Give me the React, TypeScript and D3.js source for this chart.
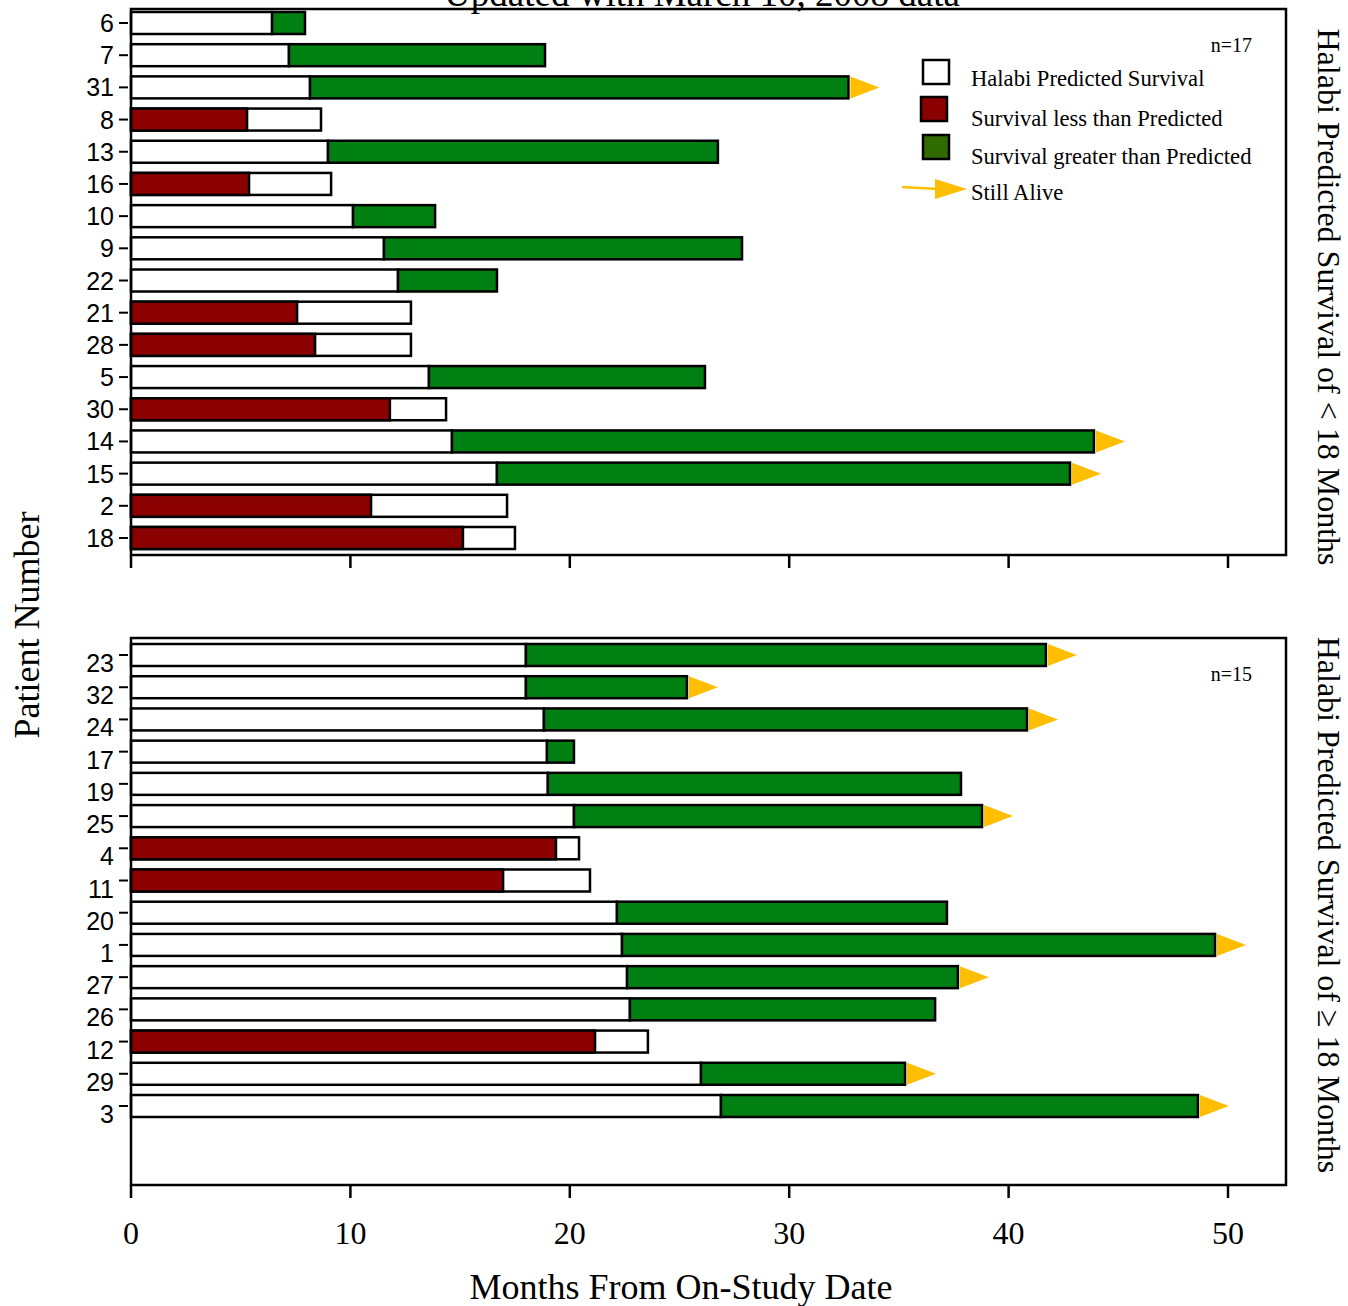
import React from "react";
import * as d3 from "d3";

// Patients with Halabi predicted survival < 18 months (top panel)
const shortIds = ["6", "7", "31", "8", "13", "16", "10", "9", "22", "21", "28", "5", "30", "14", "15", "2", "18"];
const shortPredicted = [6.43, 7.2, 8.16, 8.66, 8.98, 9.12, 10.12, 11.53, 12.17, 12.76, 12.76, 13.58, 14.36, 14.63, 16.68, 17.14, 17.5];
const shortActual = [7.93, 18.87, 32.7, 5.29, 26.75, 5.38, 13.86, 27.85, 16.68, 7.57, 8.39, 26.16, 11.8, 43.89, 42.8, 10.94, 15.13];
const shortAlive = [false, false, true, false, false, false, false, false, false, false, false, false, false, true, true, false, false];

// Patients with Halabi predicted survival >= 18 months (bottom panel)
const longIds = ["23", "32", "24", "17", "19", "25", "4", "11", "20", "1", "27", "26", "12", "29", "3"];
const longPredicted = [18.0, 18.0, 18.82, 18.96, 19.0, 20.19, 20.42, 20.92, 22.15, 22.38, 22.61, 22.74, 23.56, 25.98, 26.89];
const longActual = [41.7, 25.34, 40.84, 20.19, 37.83, 38.79, 19.37, 16.96, 37.19, 49.41, 37.69, 36.65, 21.15, 35.28, 48.63];
const longAlive = [true, true, true, false, false, true, false, false, false, true, true, false, false, true, true];

const xTicks = [0, 10, 20, 30, 40, 50];
const legendItems = ["Halabi Predicted Survival", "Survival less than Predicted", "Survival greater than Predicted", "Still Alive"];

const WHITE = "#ffffff";
const RED = "#8b0000";
const GREEN = "#007f13";
const LEGEND_GREEN = "#2f6b00";
const ARROW = "#ffbf00";
const SERIF = "'Liberation Serif', 'Times New Roman', serif";
const SANS = "'Liberation Sans', Arial, sans-serif";

const left = 131;
const right = 1286;
const x = d3.scaleLinear().domain([0, 50]).range([left, 1228]);
const BAR_H = 22;

type PanelProps = {
  ids: string[];
  predicted: number[];
  actual: number[];
  alive: boolean[];
  top: number;
  bottom: number;
  firstY: number;
  lastY: number;
  labelShift: number;
  nLabel: string;
  showTickLabels: boolean;
};

function Panel({ ids, predicted, actual, alive, top, bottom, firstY, lastY, labelShift, nLabel, showTickLabels }: PanelProps) {
  const y = d3.scalePoint<string>().domain(ids).range([firstY, lastY]);
  return (
    <g>
      {ids.map((id, i) => {
        const cy = y(id) as number;
        const y0 = cy - BAR_H / 2;
        const p = predicted[i];
        const a = actual[i];
        const less = a < p;
        return (
          <g key={id}>
            <rect x={x(0)} y={y0} width={x(p) - x(0)} height={BAR_H} fill={WHITE} stroke="#000" strokeWidth={2.5} />
            {less ? (
              <rect x={x(0)} y={y0} width={x(a) - x(0)} height={BAR_H} fill={RED} stroke="#000" strokeWidth={2.5} />
            ) : (
              <rect x={x(p)} y={y0} width={x(a) - x(p)} height={BAR_H} fill={GREEN} stroke="#000" strokeWidth={2.5} />
            )}
            {alive[i] && (
              <polygon
                points={`${x(a) + 2},${cy - 11} ${x(a) + 31},${cy} ${x(a) + 2},${cy + 11}`}
                fill={ARROW}
              />
            )}
            <line x1={119} x2={128} y1={cy} y2={cy} stroke="#000" strokeWidth={2} />
            <text x={114} y={cy + labelShift} textAnchor="end" dominantBaseline="central" fontFamily={SANS} fontSize={25}>
              {id}
            </text>
          </g>
        );
      })}
      <rect x={left} y={top} width={right - left} height={bottom - top} fill="none" stroke="#000" strokeWidth={2.5} />
      {xTicks.map((t) => (
        <g key={t}>
          <line x1={x(t)} x2={x(t)} y1={bottom} y2={bottom + 13} stroke="#000" strokeWidth={2.5} />
          {showTickLabels && (
            <text x={x(t)} y={bottom + 59} textAnchor="middle" fontFamily={SERIF} fontSize={32}>
              {t}
            </text>
          )}
        </g>
      ))}
      <text x={1252} y={top + 43} textAnchor="end" fontFamily={SERIF} fontSize={20}>
        {nLabel}
      </text>
    </g>
  );
}

export default function App() {
  return (
    <svg width={1348} height={1306} style={{ position: "absolute", left: 0, top: 0, background: "#fff" }}>
      <rect width={1348} height={1306} fill="#fff" />
      <text x={702} y={6} textAnchor="middle" fontFamily={SERIF} fontSize={37}>
        Updated with March 10, 2008 data
      </text>

      <Panel
        ids={shortIds}
        predicted={shortPredicted}
        actual={shortActual}
        alive={shortAlive}
        top={9}
        bottom={555}
        firstY={23}
        lastY={538}
        labelShift={0}
        nLabel="n=17"
        showTickLabels={false}
      />
      <Panel
        ids={longIds}
        predicted={longPredicted}
        actual={longActual}
        alive={longAlive}
        top={638}
        bottom={1185}
        firstY={655}
        lastY={1106}
        labelShift={8}
        nLabel="n=15"
        showTickLabels={true}
      />

      {/* Legend */}
      <g fontFamily={SERIF} fontSize={22.6}>
        <rect x={923} y={60} width={26} height={24} fill={WHITE} stroke="#000" strokeWidth={2.5} />
        <rect x={921} y={97} width={26} height={24} fill={RED} stroke="#000" strokeWidth={2.5} />
        <rect x={923} y={135} width={26} height={24} fill={LEGEND_GREEN} stroke="#000" strokeWidth={2.5} />
        <line x1={902} y1={187} x2={938} y2={189} stroke={ARROW} strokeWidth={2.5} />
        <polygon points="935,179 967,189 935,199" fill={ARROW} />
        {legendItems.map((label, i) => (
          <text key={label} x={971} y={[86, 126, 164, 200][i]}>
            {label}
          </text>
        ))}
      </g>

      {/* Axis titles */}
      <text x={681} y={1299} textAnchor="middle" fontFamily={SERIF} fontSize={36}>
        Months From On-Study Date
      </text>
      <text transform="translate(39,625) rotate(-90)" textAnchor="middle" fontFamily={SERIF} fontSize={36}>
        Patient Number
      </text>
      <text transform="translate(1318,297) rotate(90)" textAnchor="middle" fontFamily={SERIF} fontSize={32}>
        Halabi Predicted Survival of &lt; 18 Months
      </text>
      <text transform="translate(1318,905) rotate(90)" textAnchor="middle" fontFamily={SERIF} fontSize={32}>
        Halabi Predicted Survival of ≥ 18 Months
      </text>
    </svg>
  );
}
